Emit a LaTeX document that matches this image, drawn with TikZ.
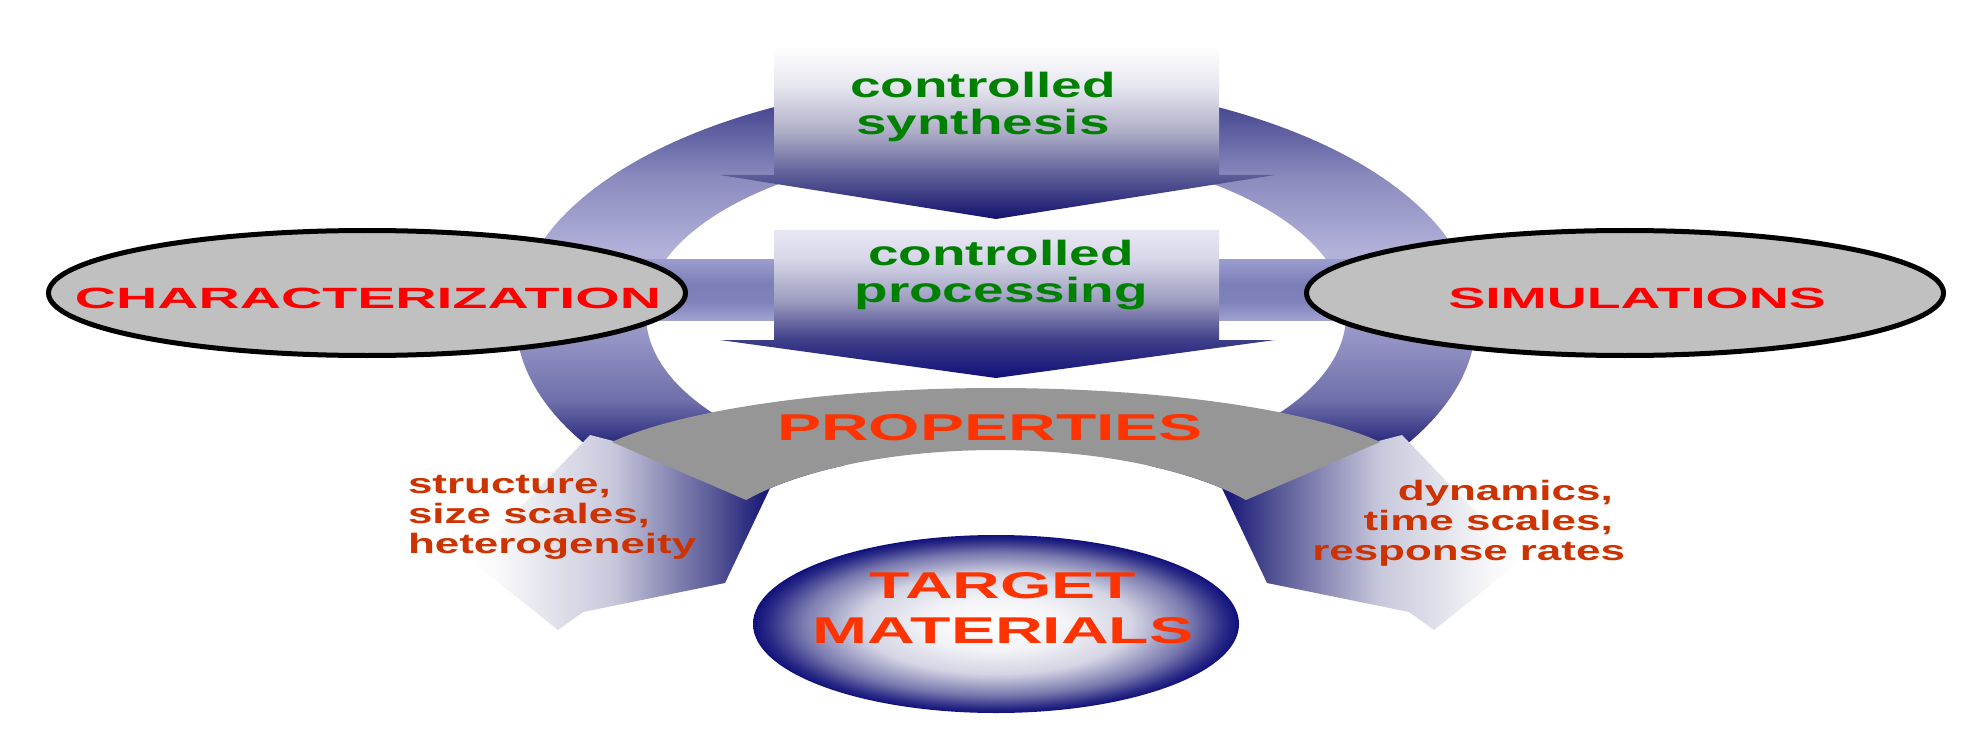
\documentclass[tikz,border=0pt]{standalone}
\usepackage{fontspec}
\setmainfont{Liberation Sans}
\usepackage{graphicx}
\usetikzlibrary{shapes.geometric}

\definecolor{cRed}{HTML}{FF0000}
\definecolor{cOrange}{HTML}{FF3300}
\definecolor{cSide}{HTML}{CC3300}
\definecolor{cGreen}{HTML}{008000}
\definecolor{ovalGrey}{HTML}{C0C0C0}
\definecolor{propGrey}{HTML}{969696}

% ring colours
\definecolor{rT}{HTML}{2E2E80}
\definecolor{rM2}{HTML}{8A8ABE}
\definecolor{rL}{HTML}{B2B2DA}
\definecolor{rL2}{HTML}{AAAAD4}
\definecolor{rM1}{HTML}{6E6EAA}
\definecolor{rB2}{HTML}{2E2E80}
\definecolor{rB}{HTML}{1A1A76}
% top arrow
\definecolor{aA0}{HTML}{12126E}
\definecolor{aA1}{HTML}{5E5E98}
\definecolor{aA2}{HTML}{AEAEC8}
\definecolor{aA3}{HTML}{E4E4EE}
% second arrow
\definecolor{aB0}{HTML}{10107A}
\definecolor{aB1}{HTML}{3E3E88}
\definecolor{aB2}{HTML}{9C9CC0}
\definecolor{aB3}{HTML}{D6D6E8}
\definecolor{aB4}{HTML}{E8E8F4}
% band
\definecolor{bd0}{HTML}{A0A2D0}
\definecolor{bd1}{HTML}{8082BC}
\definecolor{bd2}{HTML}{7C7EB8}
\definecolor{bd3}{HTML}{9A9CCE}
% side arrows
\definecolor{s1}{HTML}{F8F8FA}
\definecolor{s2}{HTML}{C8C8DC}
\definecolor{s3}{HTML}{5A5A98}
\definecolor{s4}{HTML}{1E1E7A}
\definecolor{s5}{HTML}{1A1A78}
% target
\definecolor{t1}{HTML}{F4F4F8}
\definecolor{t2}{HTML}{D4D4E4}
\definecolor{t3}{HTML}{7878AE}
\definecolor{t4}{HTML}{2A2A86}
\definecolor{t5}{HTML}{10107C}

% the path's bounding box is mapped onto the 25bp..75bp part of a shading
\pgfdeclareverticalshading{ringsh}{100bp}{color(0bp)=(rB); color(25bp)=(rB); color(37.5bp)=(rB2); color(41.5bp)=(rM1); color(52bp)=(rL2); color(57bp)=(rL); color(65bp)=(rM2); color(75bp)=(rT); color(100bp)=(rT)}
\pgfdeclareverticalshading{arrAsh}{100bp}{color(0bp)=(aA0); color(25bp)=(aA0); color(37.8bp)=(aA1); color(50.5bp)=(aA2); color(63bp)=(aA3); color(75bp)=(white); color(100bp)=(white)}
\pgfdeclareverticalshading{arrBsh}{100bp}{color(0bp)=(aB0); color(25bp)=(aB0); color(37.85bp)=(aB1); color(51bp)=(aB2); color(65bp)=(aB3); color(75bp)=(aB4); color(100bp)=(aB4)}
\pgfdeclareverticalshading{bandsh}{100bp}{color(0bp)=(bd0); color(25bp)=(bd0); color(40bp)=(bd1); color(55bp)=(bd2); color(75bp)=(bd3); color(100bp)=(bd3)}
\pgfdeclarehorizontalshading{larsh}{100bp}{color(0bp)=(white); color(25bp)=(white); color(30bp)=(s1); color(48.5bp)=(s2); color(65bp)=(s3); color(73bp)=(s4); color(75bp)=(s5); color(100bp)=(s5)}
\pgfdeclarehorizontalshading{rarsh}{100bp}{color(0bp)=(s5); color(25bp)=(s5); color(27bp)=(s4); color(35bp)=(s3); color(51.5bp)=(s2); color(70bp)=(s1); color(75bp)=(white); color(100bp)=(white)}
\pgfdeclareradialshading{tgtsh}{\pgfpoint{0bp}{0bp}}{color(0bp)=(white); color(7bp)=(t1); color(14bp)=(t2); color(20bp)=(t3); color(23.5bp)=(t4); color(25bp)=(t5); color(50bp)=(t5)}

\begin{document}
\begin{tikzpicture}[x=1pt,y=-1pt,
  lbl/.style={inner sep=0pt, outer sep=0pt},
  ovalbox/.style={ellipse, draw=black, line width=5pt, fill=ovalGrey,
    minimum width=637pt, minimum height=125pt, inner sep=0pt}]
\useasboundingbox (0,0) rectangle (1985,743);
\fill[white] (0,0) rectangle (1985,743);

% blue ring, cut off below the PROPERTIES band
\begin{scope}
\clip (0,0) -- (1985,0) -- (1985,743) -- (1296,743) -- (1296,562)
  -- plot[domain=0:-180,samples=72] ({996+300*cos(\x)},{562+112*sin(\x)})
  -- (696,743) -- (0,743) -- cycle;
\shade[shading=ringsh, even odd rule] (996,320) ellipse [x radius=480, y radius=240]
  (996,315) ellipse [x radius=350, y radius=167];
\end{scope}

% horizontal band between the two ovals
\shade[shading=bandsh] (560,260) rectangle (1432,320);

% controlled synthesis arrow
\shade[shading=arrAsh] (774,47) -- (1219,47) -- (1219,175) -- (1275,175) -- (996,219)
  -- (720,175) -- (774,175) -- cycle;
% controlled processing arrow
\shade[shading=arrBsh] (774,230) -- (1219,230) -- (1219,340) -- (1275,340) -- (996,378)
  -- (720,340) -- (774,340) -- cycle;

% ovals
\node[ovalbox] (charE) at (367,293) {};
\node[ovalbox] (simE) at (1625,293) {};

% side arrows
\shade[shading=larsh] (590,435) -- (773,482) -- (725,583) -- (583,612) -- (558,630)
  -- (470,560) -- cycle;
\shade[shading=rarsh] (1402,435) -- (1219,482) -- (1267,583) -- (1409,612) -- (1434,630)
  -- (1522,560) -- cycle;

% PROPERTIES band
\fill[propGrey] (612,442)
  -- plot[domain=-153.3:-26.7,samples=72] ({996+430*cos(\x)},{486+98*sin(\x)})
  -- (1246,500)
  -- plot[domain=-33.6:-146.4,samples=72] ({996+300*cos(\x)},{562+112*sin(\x)})
  -- cycle;

% target materials oval
\node[ellipse, shade, shading=tgtsh, minimum width=486pt, minimum height=178pt,
  inner sep=0pt] (tgtE) at (996,624) {};

% texts
\node[lbl, text=cGreen, anchor=base, font=\fontsize{35}{37}\selectfont\bfseries]
  (synT) at (983,135) {\scalebox{1.57}[1]{\begin{tabular}[b]{@{}c@{}}controlled\\synthesis\end{tabular}}};
\node[lbl, text=cGreen, anchor=base, font=\fontsize{35}{37}\selectfont\bfseries]
  (procT) at (1001,302) {\scalebox{1.57}[1]{\begin{tabular}[b]{@{}c@{}}controlled\\processing\end{tabular}}};
\node[lbl, text=cRed, anchor=base, font=\fontsize{29.3}{32}\selectfont\bfseries]
  (charT) at (368,308) {\scalebox{1.95}[1]{CHARACTERIZATION}};
\node[lbl, text=cRed, anchor=base, font=\fontsize{29.3}{32}\selectfont\bfseries]
  (simT) at (1637,308) {\scalebox{1.89}[1]{SIMULATIONS}};
\node[lbl, text=cOrange, anchor=base, font=\fontsize{37.3}{45}\selectfont\bfseries]
  (propT) at (990,440) {\scalebox{1.77}[1]{PROPERTIES}};
\node[lbl, text=cOrange, anchor=base, font=\fontsize{37.3}{45}\selectfont\bfseries]
  (tgtT) at (1003,643) {\scalebox{1.77}[1]{\begin{tabular}[b]{@{}c@{}}TARGET\\MATERIALS\end{tabular}}};
\node[lbl, text=cSide, anchor=base west, font=\fontsize{28}{30}\selectfont\bfseries]
  (leftT) at (408,553) {\scalebox{1.57}[1]{\begin{tabular}[b]{@{}l@{}}structure,\\size scales,\\heterogeneity\end{tabular}}};
\node[lbl, text=cSide, anchor=base east, font=\fontsize{28}{30}\selectfont\bfseries]
  (rightT) at (1625,560) {\scalebox{1.57}[1]{\begin{tabular}[b]{@{}r@{}}dynamics,\kern0.278em\\time scales,\kern0.278em\\response rates\end{tabular}}};
\end{tikzpicture}
\end{document}
